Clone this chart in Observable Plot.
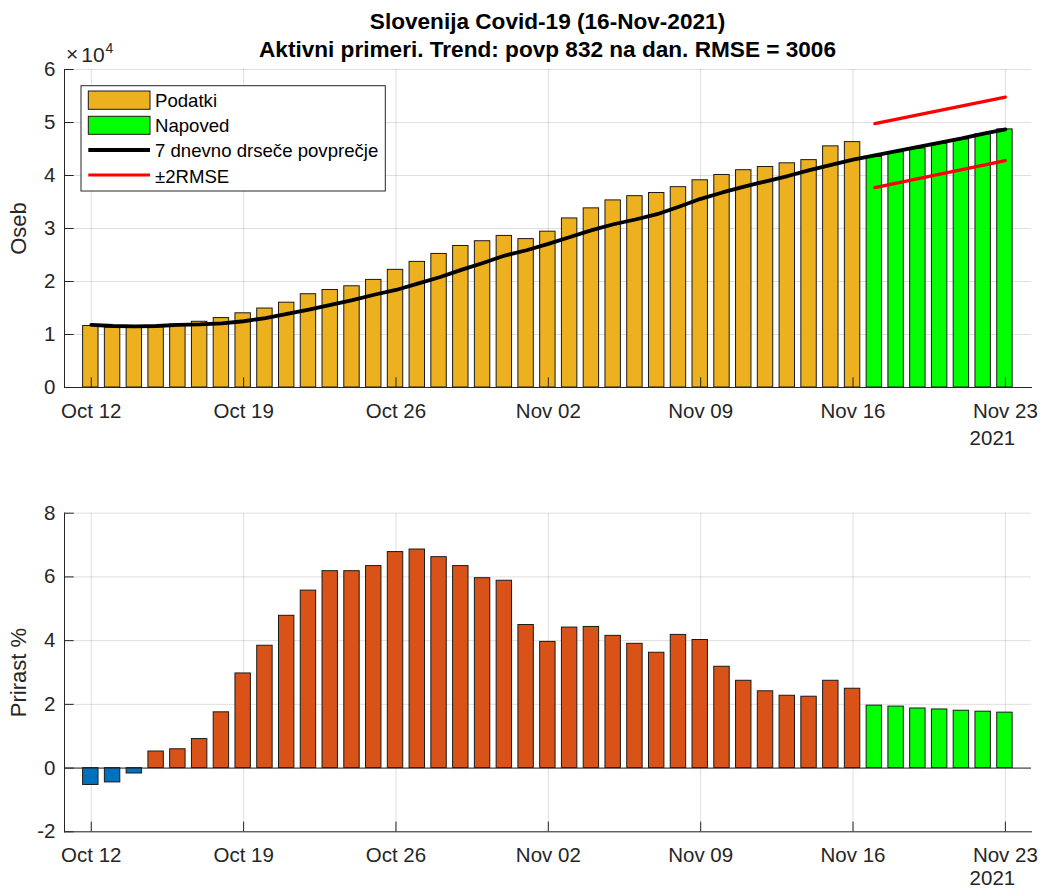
<!DOCTYPE html>
<html>
<head>
<meta charset="utf-8">
<script src="https://cdn.jsdelivr.net/npm/d3@7"></script>
<script src="https://cdn.jsdelivr.net/npm/@observablehq/plot@0.6"></script>
<style>
  body { margin: 0; background: #fff; font-family: "Liberation Sans", Arial, sans-serif; }
  #fig { position: relative; width: 1042px; height: 890px; overflow: hidden; background: #fff; }
  #fig > * { position: absolute; }
  .title { left: 0; width: 1095px; text-align: center; font-weight: bold; font-size: 22.6px;
           line-height: 28px; color: #000; white-space: nowrap; }
</style>
</head>
<body>
<div id="fig"></div>
<script>
// ---------- data ----------
const dates = [
  "2021-10-12","2021-10-13","2021-10-14","2021-10-15","2021-10-16","2021-10-17","2021-10-18",
  "2021-10-19","2021-10-20","2021-10-21","2021-10-22","2021-10-23","2021-10-24","2021-10-25",
  "2021-10-26","2021-10-27","2021-10-28","2021-10-29","2021-10-30","2021-10-31","2021-11-01",
  "2021-11-02","2021-11-03","2021-11-04","2021-11-05","2021-11-06","2021-11-07","2021-11-08",
  "2021-11-09","2021-11-10","2021-11-11","2021-11-12","2021-11-13","2021-11-14","2021-11-15",
  "2021-11-16","2021-11-17","2021-11-18","2021-11-19","2021-11-20","2021-11-21","2021-11-22",
  "2021-11-23"
];
const activeObserved = [11600, 11300, 11300, 11600, 11900, 12400, 13100, 14000, 14900, 16000,
  17600, 18400, 19100, 20300, 22200, 23700, 25200, 26700, 27600, 28600,
  28000, 29400, 31900, 33800, 35300, 36100, 36700, 37800, 39100, 40100,
  41000, 41600, 42300, 42900, 45500, 46300];
const activeForecast = [43500, 44400, 45100, 46000, 46800, 47800, 48700];
const movingAvg = [11800, 11600, 11550, 11600, 11800, 11900, 12100, 12500, 13100, 13900,
  14700, 15600, 16500, 17500, 18400, 19600, 20800, 22200, 23500, 24900,
  25900, 27100, 28400, 29700, 30800, 31700, 32700, 34100, 35600, 36800,
  37900, 38900, 39900, 41000, 42000, 43000,
  43800, 44600, 45400, 46200, 47000, 47900, 48700];
const bandDates = ["2021-11-17", "2021-11-23"];
const bandUpper = [49800, 54800];
const bandLower = [37700, 42800];
const growthObserved = [-0.53, -0.45, -0.17, 0.52, 0.59, 0.91, 1.75, 2.97, 3.84, 4.78,
  5.57, 6.18, 6.18, 6.34, 6.78, 6.86, 6.62, 6.34, 5.96, 5.88,
  4.49, 3.96, 4.41, 4.43, 4.15, 3.90, 3.62, 4.18, 4.02, 3.18,
  2.74, 2.41, 2.27, 2.24, 2.74, 2.49];
const growthForecast = [1.96, 1.93, 1.87, 1.84, 1.80, 1.77, 1.74];
const xTickDates = ["2021-10-12","2021-10-19","2021-10-26","2021-11-02","2021-11-09","2021-11-16","2021-11-23"];
const yTicksTop = [0, 10000, 20000, 30000, 40000, 50000, 60000];
const yTicksBottom = [-2, 0, 2, 4, 6, 8];
const titleLines = ["Slovenija Covid-19 (16-Nov-2021)", "Aktivni primeri. Trend: povp 832 na dan. RMSE = 3006"];
const legendLabels = ["Podatki", "Napoved", "7 dnevno drseče povprečje", "±2RMSE"];

// ---------- styles ----------
const C = { data: "#EDB120", fc: "#00FF00", ma: "#000000", band: "#FF0000",
            pos: "#D95319", neg: "#0072BD", axis: "#262626", edge: "#1a1a1a" };
const FONT = '"Liberation Sans", Arial, sans-serif';

const nObs = activeObserved.length;
const rows = dates.map((d, i) => ({
  date: new Date(d),
  active: i < nObs ? activeObserved[i] : activeForecast[i - nObs],
  forecast: i >= nObs,
  ma: movingAvg[i],
  growth: i < nObs ? growthObserved[i] : growthForecast[i - nObs]
}));
const band = bandDates.map((d, i) => ({date: new Date(d), upper: bandUpper[i], lower: bandLower[i]}));
const ticksX = xTickDates.map(d => new Date(d));
const DAY = 864e5;
const xDomain = [new Date(+rows[0].date - 1.23 * DAY), new Date(+rows[rows.length - 1].date + 1.2 * DAY)];
const fmt = d3.utcFormat("%b %d");
const barStart = d => d3.utcHour.offset(d.date, -8.8);
const barEnd = d => d3.utcHour.offset(d.date, 8.8);
const lastDate = [{date: rows[rows.length - 1].date, t: "2021"}];

const common = (h, mt, mb) => ({
  width: 1042, height: h, marginLeft: 64, marginRight: 11, marginTop: mt, marginBottom: mb,
  style: {fontFamily: FONT, color: C.axis, background: "transparent", overflow: "visible"},
  x: {type: "utc", domain: xDomain}
});

const axesMarks = (yTicks, yFmt, ylabel, yearDy) => [
  Plot.axisX(ticksX, {tickSize: -9.7, tickPadding: 25.2, tickFormat: fmt, fontSize: 20.5, label: null, stroke: C.axis, fill: C.axis}),
  Plot.axisY(yTicks, {tickSize: -9.7, tickPadding: 18.7, tickFormat: yFmt, fontSize: 20.5, label: null, stroke: C.axis, fill: C.axis}),
  Plot.frame({anchor: "left", stroke: C.axis}),
  Plot.frame({anchor: "bottom", stroke: C.axis}),
  Plot.text([ylabel], {frameAnchor: "left", rotate: -90, dx: -46, fontSize: 22, fill: C.axis, textAnchor: "middle", lineAnchor: "middle"}),
  Plot.text(lastDate, {x: "date", text: "t", frameAnchor: "bottom", dy: yearDy, dx: -13, fontSize: 20.5, fill: C.axis, lineAnchor: "bottom"})
];

const topPlot = Plot.plot({
  ...common(460, 69, 73),
  y: {domain: [0, 60000]},
  marks: [
    Plot.gridX(ticksX, {stroke: C.axis, strokeOpacity: 0.15, strokeWidth: 1}),
    Plot.gridY(yTicksTop, {stroke: C.axis, strokeOpacity: 0.15, strokeWidth: 1}),
    Plot.rectY(rows, {x1: barStart, x2: barEnd, y1: 0, y2: "active",
      fill: d => d.forecast ? C.fc : C.data, stroke: C.edge, strokeWidth: 1}),
    Plot.line(rows, {x: "date", y: "ma", stroke: C.ma, strokeWidth: 3.8}),
    Plot.line(band, {x: "date", y: "upper", stroke: C.band, strokeWidth: 3.2}),
    Plot.line(band, {x: "date", y: "lower", stroke: C.band, strokeWidth: 3.2}),
    ...axesMarks(yTicksTop, d => String(d / 1e4), "Oseb", 57.5)
  ]
});

const bottomPlot = Plot.plot({
  ...common(430, 52.7, 58.7),
  y: {domain: [-2, 8]},
  marks: [
    Plot.gridX(ticksX, {stroke: C.axis, strokeOpacity: 0.15, strokeWidth: 1}),
    Plot.gridY(yTicksBottom, {stroke: C.axis, strokeOpacity: 0.15, strokeWidth: 1}),
    Plot.rectY(rows, {x1: barStart, x2: barEnd, y1: 0, y2: "growth",
      fill: d => d.forecast ? C.fc : (d.growth < 0 ? C.neg : C.pos), stroke: C.edge, strokeWidth: 1}),
    Plot.ruleY([0], {stroke: C.axis, strokeWidth: 1}),
    ...axesMarks(yTicksBottom, d => String(d), "Prirast %", 53.5)
  ]
});

const fig = document.getElementById("fig");
topPlot.style.left = "0px"; topPlot.style.top = "0px";
bottomPlot.style.left = "0px"; bottomPlot.style.top = "460px";
fig.appendChild(topPlot);
fig.appendChild(bottomPlot);

// title
const t1 = document.createElement("div"); t1.className = "title"; t1.style.top = "7.7px"; t1.textContent = titleLines[0];
const t2 = document.createElement("div"); t2.className = "title"; t2.style.top = "35.7px"; t2.textContent = titleLines[1];
fig.appendChild(t1); fig.appendChild(t2);

// exponent label
const ns = "http://www.w3.org/2000/svg";
const ex = document.createElementNS(ns, "svg");
ex.setAttribute("width", "80"); ex.setAttribute("height", "40");
ex.style.left = "60px"; ex.style.top = "30px";
ex.innerHTML = `<text x="6" y="31" font-family='${FONT}' font-size="21" fill="${C.axis}">×</text>` +
               `<text x="21.3" y="31.7" font-family='${FONT}' font-size="21" fill="${C.axis}">10</text>` +
               `<text x="45.5" y="23.3" font-family='${FONT}' font-size="14" fill="${C.axis}">4</text>`;
fig.appendChild(ex);

// legend
const lg = document.createElementNS(ns, "svg");
lg.setAttribute("width", "308"); lg.setAttribute("height", "108");
lg.style.left = "80px"; lg.style.top = "85px";
const tx = (y, s) => `<text x="75" y="${y}" font-family='${FONT}' font-size="18.6" fill="#000">${s}</text>`;
lg.innerHTML =
  `<rect x="1" y="0.7" width="304.3" height="105.3" fill="#fff" stroke="${C.axis}" stroke-width="1"/>` +
  `<rect x="8.3" y="6" width="61.7" height="18.3" fill="${C.data}" stroke="${C.edge}" stroke-width="1"/>` +
  `<rect x="8.3" y="31.3" width="61.7" height="18" fill="${C.fc}" stroke="${C.edge}" stroke-width="1"/>` +
  `<line x1="8.3" x2="70" y1="65" y2="65" stroke="${C.ma}" stroke-width="3.8"/>` +
  `<line x1="8.3" x2="70" y1="90" y2="90" stroke="${C.band}" stroke-width="3.2"/>` +
  tx(21.7, legendLabels[0]) + tx(46.7, legendLabels[1]) + tx(72, legendLabels[2]) + tx(97.5, legendLabels[3]);
fig.appendChild(lg);
</script>
</body>
</html>
